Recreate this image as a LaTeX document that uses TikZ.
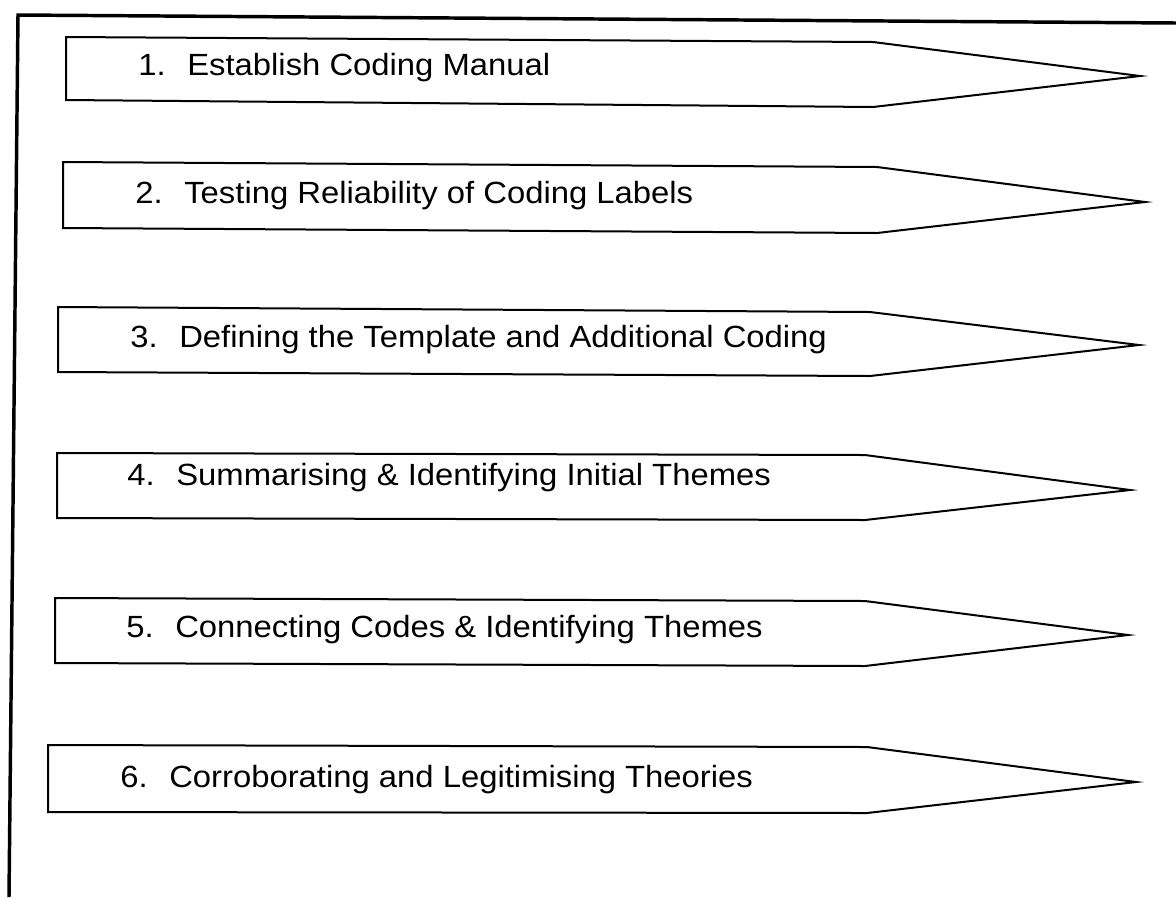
\documentclass[tikz,border=0pt]{standalone}
\usepackage{graphicx}
\usepackage{fontspec}
\setmainfont{Liberation Sans}
\begin{document}
\begin{tikzpicture}[x=0.75pt,y=-0.75pt,
  pennant/.style={draw=black,line width=1.5pt,line join=miter,fill=white},
  frameline/.style={draw=black,line width=2.6pt},
  label/.style={anchor=base west,inner sep=0pt,font=\fontsize{23}{27}\selectfont}]
\useasboundingbox (0,0) rectangle (1176,897);
\fill[white] (0,0) rectangle (1176,897);

% outer frame (top and left edges)
\draw[frameline] (1176,23) -- (18,15) -- (9,897);

% pennant-shaped step banners: left-top, corner-top, tip, corner-bottom, left-bottom
\draw[pennant] (66,37)  -- (873,42)  -- (1140,76)  -- (873,107) -- (66,100)  -- cycle;
\draw[pennant] (63,162) -- (877,167) -- (1145,202) -- (877,233) -- (63,228)  -- cycle;
\draw[pennant] (58,307) -- (870,312) -- (1139,345) -- (870,376) -- (58,372)  -- cycle;
\draw[pennant] (57,453) -- (865,455) -- (1130,490) -- (865,520) -- (57,518)  -- cycle;
\draw[pennant] (55,598) -- (865,601) -- (1128,635) -- (865,666) -- (55,663)  -- cycle;
\draw[pennant] (48,745) -- (867,747) -- (1136,782) -- (867,813) -- (48,812)  -- cycle;

% step captions (slightly widened lettering)
\newcommand{\stepcap}[2]{\scalebox{1.07}[1]{#1.\hspace{0.66em}#2}}
\node[label] (s1) at (138,75)  {\stepcap{1}{Establish Coding Manual}};
\node[label] (s2) at (135,203) {\stepcap{2}{Testing Reliability of Coding Labels}};
\node[label] (s3) at (130,347) {\stepcap{3}{Defining the Template and Additional Coding}};
\node[label] (s4) at (127,485) {\stepcap{4}{Summarising \& Identifying Initial Themes}};
\node[label] (s5) at (126,637) {\stepcap{5}{Connecting Codes \& Identifying Themes}};
\node[label] (s6) at (120,787) {\stepcap{6}{Corroborating and Legitimising Theories}};
\end{tikzpicture}
\end{document}
